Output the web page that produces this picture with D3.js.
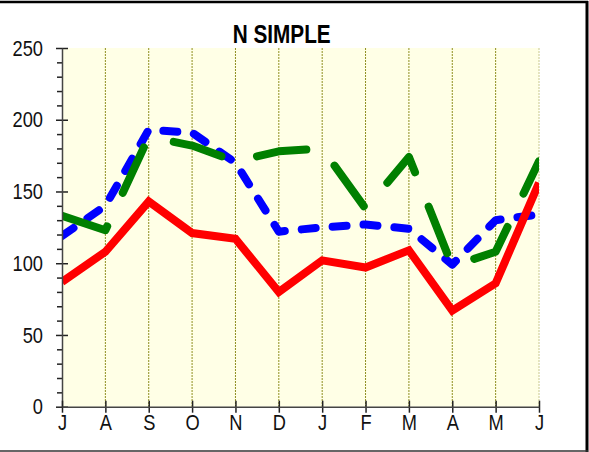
<!DOCTYPE html>
<html>
<head>
<meta charset="utf-8">
<script src="https://cdn.jsdelivr.net/npm/d3@7"></script>
<style>
  body { margin: 0; background: #fff; }
  svg { display: block; }
  .lbl text { font-family: "Liberation Sans Narrow", "Arial Narrow", "Liberation Sans", sans-serif; font-size: 22px; fill: #111; }
</style>
</head>
<body>
<div id="chart"></div>
<script>
// month labels along the bottom
var months = ["J", "A", "S", "O", "N", "D", "J", "F", "M", "A", "M", "J"];
// series values
var redVals   = [87, 108, 143, 121, 117, 80, 102, 97, 109, 67, 86, 156];
var blueVals  = [119, 140, 193, 191, 170, 122, 125, 127, 124, 99, 130, 134];
var greenVals = [133, 123, 188, 182, 171, 178, 180, 138, 174, 98, 108, 171];
var yTicks = [0, 50, 100, 150, 200, 250];

var W = 589, H = 452;
var margin = {top: 48, right: 50, bottom: 45.3, left: 62};
var width = W - margin.left - margin.right,
    height = H - margin.top - margin.bottom;

var svg = d3.select("#chart").append("svg")
    .attr("width", W)
    .attr("height", H);

// outer frame
svg.append("line").attr("x1", 0).attr("x2", 588).attr("y1", 2).attr("y2", 2)
    .attr("stroke", "#000").attr("stroke-width", 2.5);
svg.append("line").attr("x1", 587).attr("x2", 587).attr("y1", 1).attr("y2", 452)
    .attr("stroke", "#000").attr("stroke-width", 3);
svg.append("line").attr("x1", 0).attr("x2", 588).attr("y1", 451).attr("y2", 451)
    .attr("stroke", "#333").attr("stroke-width", 1.5);

var g = svg.append("g")
    .attr("transform", "translate(" + margin.left + "," + margin.top + ")");

var x = d3.scaleLinear().domain([0, months.length - 1]).range([0, width]);
var y = d3.scaleLinear().domain([0, 250]).range([height, 0]);

// plot background
g.append("rect")
    .attr("width", width).attr("height", height)
    .attr("fill", "#FFFFE6");

// vertical dotted grid
g.selectAll(".grid")
    .data(d3.range(1, months.length))
    .enter().append("line")
    .attr("class", "grid")
    .attr("x1", function(d) { return x(d); })
    .attr("x2", function(d) { return x(d); })
    .attr("y1", 0).attr("y2", height)
    .attr("stroke", function(d) { return d == months.length - 1 ? "#c8c890" : "#8f8f20"; })
    .attr("stroke-width", 1)
    .attr("stroke-dasharray", "2,1");

g.append("clipPath").attr("id", "clip")
    .append("rect").attr("width", width).attr("height", height);

var line = d3.line()
    .x(function(d, i) { return x(i); })
    .y(function(d) { return y(d); });

var lines = g.append("g").attr("clip-path", "url(#clip)");

lines.append("path")
    .datum(blueVals)
    .attr("d", line)
    .attr("fill", "none")
    .attr("stroke", "#0000FF")
    .attr("stroke-width", 8)
    .attr("stroke-linecap", "round")
    .attr("stroke-linejoin", "round")
    .attr("stroke-dasharray", "14,17");

lines.append("path")
    .datum(greenVals)
    .attr("d", line)
    .attr("fill", "none")
    .attr("stroke", "#008000")
    .attr("stroke-width", 8)
    .attr("stroke-linecap", "round")
    .attr("stroke-linejoin", "round")
    .attr("stroke-dasharray", "50,37");

lines.append("path")
    .datum(redVals)
    .attr("d", line)
    .attr("fill", "none")
    .attr("stroke", "#FF0000")
    .attr("stroke-width", 8)
    .attr("stroke-linejoin", "miter");

// y axis: minor ticks, major ticks (both sides), labels
var minor = d3.range(0, 251, 10).filter(function(d) { return d % 50 != 0; });
g.append("g")
    .call(d3.axisLeft(y).tickValues(minor).tickSize(5).tickFormat(""))
    .call(function(a) { a.select(".domain").remove(); });

g.append("g")
    .attr("transform", "translate(6,0)")
    .call(d3.axisLeft(y).tickValues(yTicks).tickSize(12).tickFormat(""))
    .call(function(a) { a.select(".domain").remove(); });

var yAxis = g.append("g")
    .attr("class", "lbl")
    .call(d3.axisLeft(y).tickValues(yTicks).tickSize(0).tickPadding(19).tickSizeOuter(0));
yAxis.select(".domain").attr("stroke", "#444").attr("stroke-width", 1.5);

// x axis: ticks cross the axis line
g.append("g")
    .attr("transform", "translate(0," + (height - 6) + ")")
    .call(d3.axisBottom(x).ticks(months.length).tickSize(12).tickFormat(""))
    .call(function(a) { a.select(".domain").remove(); });

var xAxis = g.append("g")
    .attr("class", "lbl")
    .attr("transform", "translate(0," + height + ")")
    .call(d3.axisBottom(x).ticks(months.length).tickSize(0).tickPadding(8).tickSizeOuter(0)
        .tickFormat(function(d) { return months[d]; }));
xAxis.select(".domain").attr("stroke", "#444").attr("stroke-width", 1.5);
g.selectAll(".tick line").attr("stroke", "#222").attr("stroke-width", 1.5);

// title
svg.append("text")
    .attr("class", "ttl")
    .attr("x", 281.7).attr("y", 43.3)
    .attr("text-anchor", "middle")
    .style("font-family", '"Liberation Sans Narrow", "Arial Narrow", "Liberation Sans", sans-serif')
    .style("font-size", "25px")
    .style("font-weight", "bold")
    .text("N SIMPLE");

// the original uses a narrow face; squeeze the regular one to match
svg.selectAll(".lbl text, text.ttl").each(function() {
    var len = this.getComputedTextLength();
    d3.select(this)
        .attr("textLength", len * 0.83)
        .attr("lengthAdjust", "spacingAndGlyphs");
});
</script>
</body>
</html>
